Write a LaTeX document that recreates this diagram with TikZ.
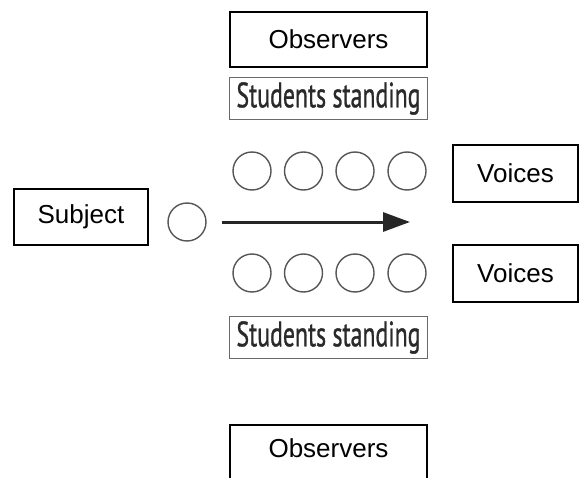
\documentclass[tikz,border=0pt]{standalone}
\usepackage{fontspec}
\setmainfont{Liberation Sans}
\newfontfamily\condfont[FakeBold=1.2]{PT Sans}
\usetikzlibrary{arrows.meta}
\definecolor{ringgray}{HTML}{555555}
\definecolor{boxgray}{HTML}{6A6A6A}
\definecolor{textgray}{HTML}{2A2A2A}
\begin{document}
\begin{tikzpicture}[x=1pt,y=-1pt,
  labelbox/.style={draw=black, line width=1.8pt, inner sep=0pt, font=\fontsize{26}{30}\selectfont, text=black},
  studbox/.style={draw=boxgray, line width=1.5pt, inner sep=0pt, minimum width=198pt, minimum height=42pt},
  person/.style={circle, draw=ringgray, line width=1.4pt, minimum size=38pt, inner sep=0pt},
  motion/.style={line width=3pt, draw=black!85, -{Triangle[length=27pt,width=19pt]}}
]
\useasboundingbox (0,0) rectangle (580,478);
% labels
\node[labelbox, minimum width=197pt, minimum height=55pt] (obsT) at (328.5,39.5) {Observers};
\node[labelbox, minimum width=134pt, minimum height=56pt] (subj) at (81,217) {Subject};
\node[labelbox, minimum width=125pt, minimum height=57pt] (voiT) at (515.5,173.5) {Voices};
\node[labelbox, minimum width=125pt, minimum height=57pt] (voiB) at (515.5,273.5) {Voices};
\begin{scope}
\clip (0,0) rectangle (580,478);
\node[labelbox, minimum width=197pt, minimum height=60pt] (obsB) at (328.5,455) {};
\end{scope}
\node[font=\fontsize{26}{30}\selectfont] (obsBt) at (328.5,448) {Observers};
% students standing
\node[studbox] (studT) at (328.5,98.5) {\color{textgray}\condfont\resizebox{184pt}{25pt}{Students standing}};
\node[studbox] (studB) at (328.5,337.5) {\color{textgray}\condfont\resizebox{184pt}{25pt}{Students standing}};
% people
\node[person] (s) at (187,222) {};
\foreach \i/\x in {1/252,2/303.5,3/355,4/407}{
  \node[person] (t\i) at (\x,171) {};
  \node[person] (b\i) at (\x,273) {};
}
\coordinate (aS) at (222,222);
\coordinate (aE) at (410,222);
\draw[motion] (aS) -- (aE);
\end{tikzpicture}
\end{document}
